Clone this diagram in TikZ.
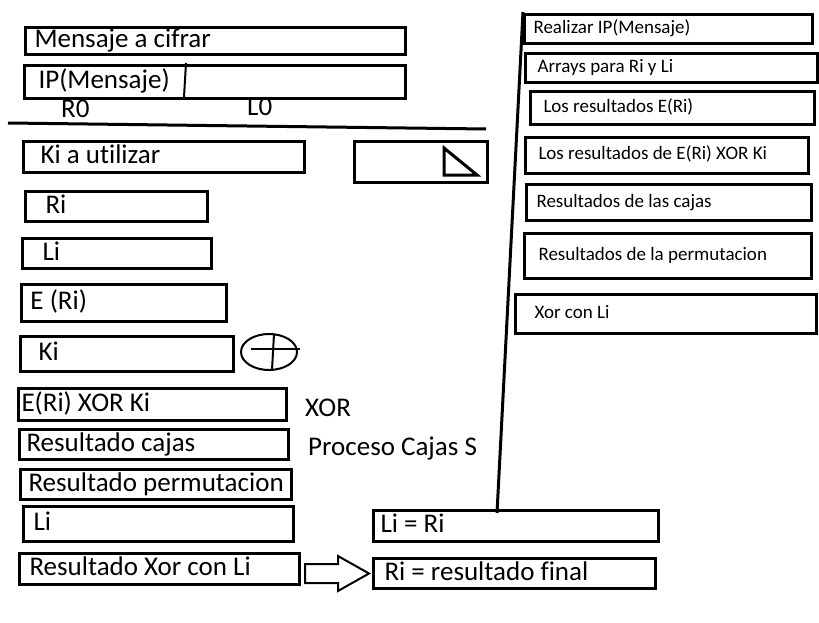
\documentclass[tikz,border=0pt]{standalone}
\usepackage{fontspec}
\setmainfont{Carlito}[Ligatures={NoCommon}]
\usetikzlibrary{calc}
\newcommand{\grande}{\fontsize{27}{31}\selectfont}
\newcommand{\chica}{\fontsize{19}{22}\selectfont}
\tikzset{
  caja/.style={draw, line width=3pt, anchor=north west, inner ysep=0pt,
    text height=20pt, text depth=6.5pt, font=\grande},
  nota/.style={caja, text height=14pt, text depth=5pt, font=\chica},
  etiqueta/.style={anchor=base west, inner sep=0pt, font=\grande},
}
\begin{document}
\begin{tikzpicture}[x=1pt,y=-1pt]
\useasboundingbox (0,0) rectangle (819,623);
% columna izquierda
\node[caja, minimum height=27pt, inner xsep=9pt] (mensaje) at (24,26) {\makebox[362pt][l]{Mensaje a cifrar}};
\node[caja, minimum height=33pt, inner xsep=14pt] (ip) at (23,64) {\makebox[353pt][l]{IP(Mensaje)}};
\draw[line width=2pt] (186,63) -- (184,97);
\node[etiqueta] (r0) at (61,118) {R0};
\node[etiqueta] (l0) at (247,116) {L0};
\draw[line width=3pt] (8,123) -- (486,129);
\node[caja, minimum height=31pt, inner xsep=17pt] (kiuso) at (22,140) {\makebox[247pt][l]{Ki a utilizar}};
\node[caja, minimum width=133pt, minimum height=41pt, inner sep=0pt] (blanco) at (353,140) {};
\draw[line width=3pt] (444,148) -- (444,175) -- (477,175) -- cycle;
\node[caja, minimum height=30pt, inner xsep=20pt] (ri) at (24,190) {\makebox[142pt][l]{Ri}};
\node[caja, minimum height=30pt, inner xsep=20pt] (li) at (21,237) {\makebox[149pt][l]{Li}};
\node[caja, minimum height=37pt, inner xsep=9pt] (eri) at (20,283) {\makebox[187pt][l]{E (Ri)}};
\node[caja, minimum height=35pt, inner xsep=18pt] (ki) at (19,335) {\makebox[177pt][l]{Ki}};
\draw[line width=2pt] (269,352) ellipse [x radius=28, y radius=18];
\draw[line width=2pt] (251,349) -- (300,349);
\draw[line width=2pt] (274,334) -- (272,370);
\node[caja, minimum height=32pt, inner xsep=3pt] (erixor) at (17,387) {\makebox[262pt][l]{E(Ri) XOR Ki}};
\node[etiqueta] (xor) at (305,416) {XOR};
\node[caja, minimum height=30pt, inner xsep=7pt] (cajas) at (18,428) {\makebox[255pt][l]{Resultado cajas}};
\node[etiqueta] (proceso) at (308,455) {Proceso Cajas S};
\node[caja, minimum height=30pt, inner xsep=8pt] (perm) at (19,468) {\makebox[255pt][l]{Resultado permutacion}};
\node[caja, minimum height=35pt, inner xsep=10pt] (li2) at (22,505) {\makebox[250pt][l]{Li}};
\node[caja, minimum height=31pt, inner xsep=10pt] (xorli) at (18,552) {\makebox[260pt][l]{Resultado Xor con Li}};
% intercambio final
\node[caja, minimum height=31pt, inner xsep=7pt] (lieqri) at (372,509) {\makebox[271pt][l]{Li = Ri}};
\node[caja, minimum height=30pt, inner xsep=11pt] (rifinal) at (372,557) {\makebox[260pt][l]{Ri = resultado final}};
\coordinate (pa) at ($(xorli.east)+(4,4.5)$);
\draw[line width=2pt] (pa) ++(0,-9.5) -- ++(33,0) -- ++(0,-8) -- ++(31,17.5)
  -- ++(-31,17.5) -- ++(0,-8) -- ++(-33,0) -- cycle;
% columna derecha
\draw[line width=3pt] (523,12) -- (497,513);
\node[nota, minimum height=29pt, inner xsep=9pt] (realizar) at (523,13) {\makebox[270pt][l]{Realizar IP(Mensaje)}};
\node[nota, minimum height=29pt, inner xsep=12pt] (arrays) at (524,52) {\makebox[268pt][l]{Arrays para Ri y Li}};
\node[nota, minimum height=33pt, inner xsep=13pt] (erires) at (529,90) {\makebox[258pt][l]{Los resultados E(Ri)}};
\node[nota, minimum height=36pt, inner xsep=13pt] (xorres) at (524,136) {\makebox[257pt][l]{Los resultados de E(Ri) XOR Ki}};
\node[nota, minimum height=36pt, inner xsep=10pt] (cajasres) at (525,183) {\makebox[265pt][l]{Resultados de las cajas}};
\node[nota, minimum height=45pt, inner xsep=14pt] (permres) at (523,232) {\makebox[259pt][l]{Resultados de la permutacion}};
\node[nota, minimum height=39pt, inner xsep=19pt] (xorlires) at (514,293) {\makebox[263pt][l]{Xor con Li}};
\end{tikzpicture}
\end{document}
